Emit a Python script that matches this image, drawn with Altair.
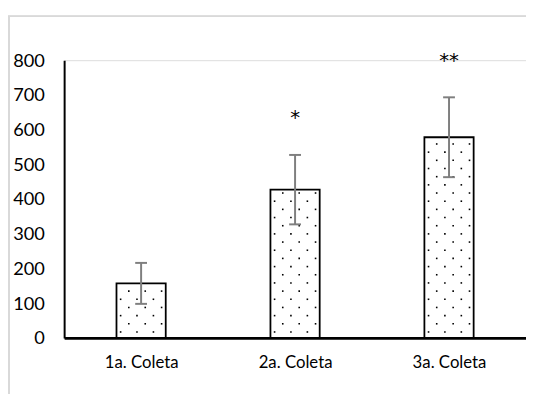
import altair as alt
import pandas as pd

categories = ["1a. Coleta", "2a. Coleta", "3a. Coleta"]
means = [157, 427, 578]
errors = [59, 100, 115]
marks = ["", "*", "**"]
y_ticks = [0, 100, 200, 300, 400, 500, 600, 700, 800]

W, H = 469, 282
px_per_unit_x = W / 3.0
px_per_unit_y = H / 800.0
bar_half = 25 / px_per_unit_x
cap_half = 6 / px_per_unit_x

bars = pd.DataFrame({
    "cat": categories,
    "idx": [i + 0.5 for i in range(3)],
    "mean": means,
    "err": errors,
    "mark": marks,
})
bars["x0"] = bars["idx"] - bar_half
bars["x1"] = bars["idx"] + bar_half
bars["lo"] = bars["mean"] - bars["err"]
bars["hi"] = bars["mean"] + bars["err"]
bars["c0"] = bars["idx"] - cap_half
bars["c1"] = bars["idx"] + cap_half

# dotted fill texture (derived from bar heights)
rows = []
step_y = 8.3 / px_per_unit_y
for i, m in enumerate(means):
    k = 0
    y = 6 / px_per_unit_y
    while y < m - 3 / px_per_unit_y:
        offs = [-20.8, -4.2, 12.5] if k % 2 == 0 else [-12.5, 4.2, 20.8]
        for o in offs:
            rows.append({"x": i + 0.5 + o / px_per_unit_x, "y": y})
        k += 1
        y += step_y
dots = pd.DataFrame(rows)

font = "Lato"
xscale = alt.Scale(domain=[0, 3], nice=False, zero=False)
yscale = alt.Scale(domain=[0, 800], nice=False)

xaxis = alt.Axis(
    values=[0.5, 1.5, 2.5], title=None, grid=False, ticks=False,
    domainColor="black", domainWidth=3, labelFont=font, labelFontSize=17,
    labelColor="black", labelPadding=17, labelOverlap=False,
    labelExpr="['1a. Coleta','2a. Coleta','3a. Coleta'][floor(datum.value)]")
yaxis = alt.Axis(
    values=y_ticks, title=None, grid=False, ticks=False,
    domainColor="black", domainWidth=2, labelFont=font, labelFontSize=18.5,
    labelColor="black", labelPadding=20, labelOverlap=False)

base = alt.Chart(bars)

bar_layer = base.mark_bar(fill="white", stroke="black", strokeWidth=1.8).encode(
    x=alt.X("x0:Q", scale=xscale, axis=xaxis),
    x2="x1:Q",
    y=alt.Y("mean:Q", scale=yscale, axis=yaxis),
    y2=alt.datum(0),
)

dot_layer = alt.Chart(dots).mark_square(size=2.6, color="black", opacity=1).encode(
    x=alt.X("x:Q", scale=xscale, axis=xaxis),
    y=alt.Y("y:Q", scale=yscale, axis=yaxis),
)

err_rule = base.mark_rule(color="#7f7f7f", strokeWidth=2).encode(
    x=alt.X("idx:Q", scale=xscale, axis=xaxis),
    y=alt.Y("lo:Q", scale=yscale, axis=yaxis), y2="hi:Q")
cap_hi = base.mark_rule(color="#7f7f7f", strokeWidth=2).encode(
    x=alt.X("c0:Q", scale=xscale, axis=xaxis), x2="c1:Q",
    y=alt.Y("hi:Q", scale=yscale, axis=yaxis))
cap_lo = base.mark_rule(color="#7f7f7f", strokeWidth=2).encode(
    x=alt.X("c0:Q", scale=xscale, axis=xaxis), x2="c1:Q",
    y=alt.Y("lo:Q", scale=yscale, axis=yaxis))

stars = base.mark_text(font="DejaVu Sans", fontSize=20, color="black", dy=-37,
                       baseline="middle").encode(
    x=alt.X("idx:Q", scale=xscale, axis=xaxis),
    y=alt.Y("hi:Q", scale=yscale, axis=yaxis), text="mark:N")

frame_top = base.mark_rule(color="#d9d9d9", strokeWidth=1.5).encode(
    x=alt.value(-57), x2=alt.value(470), y=alt.value(-44.5))
frame_left = base.mark_rule(color="#d9d9d9", strokeWidth=1.5).encode(
    x=alt.value(-56), y=alt.value(-44.5), y2=alt.value(340))

chart = alt.layer(
    frame_top, frame_left, bar_layer, dot_layer, err_rule, cap_hi, cap_lo, stars
).properties(
    width=W, height=H,
    autosize=alt.AutoSizeParams(type="none"),
    padding={"left": 57, "top": 50, "right": 0, "bottom": 54},
).configure_view(strokeWidth=0).configure_axis(labelOverlap=False).configure(
    background="white")

chart.save("out.html", embed_options={"renderer": "svg", "actions": False})
